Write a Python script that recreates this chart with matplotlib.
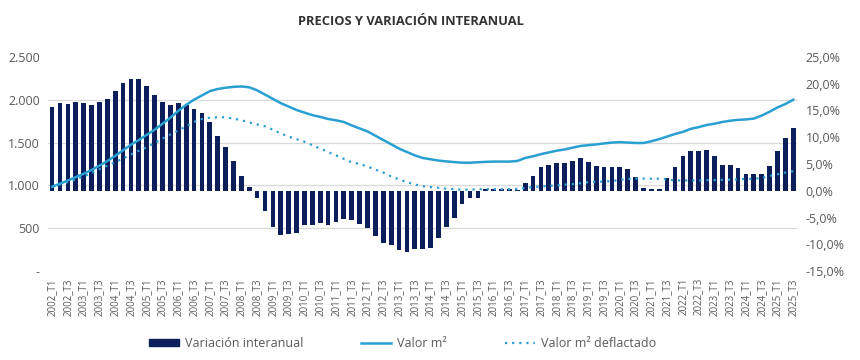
# Precios y variación interanual (trimestral, 2002_T1 - 2025_T3)
import matplotlib.pyplot as plt
import matplotlib.patches as mpatches
from matplotlib.lines import Line2D

plt.rcParams["font.family"] = ["Open Sans", "DejaVu Sans"]

trimestres = [f"{a}_T{t}" for a in range(2002, 2026) for t in range(1, 5)][:95]

# variación interanual (%), eje derecho
variacion = [
    15.6, 16.3, 16.2, 16.5, 16.3, 16.0, 16.5, 17.2, 18.7, 20.1, 20.8, 20.8,
    19.6, 17.8, 16.5, 16.0, 16.4, 16.0, 15.3, 14.6, 12.8, 10.3, 8.2, 5.6,
    2.7, 0.75, -1.4, -3.8, -6.7, -8.2, -8.1, -7.8, -6.4, -6.4, -6.1, -6.4,
    -5.8, -5.2, -5.5, -6.2, -7.0, -8.5, -9.8, -10.2, -11.1, -11.4, -10.8, -10.8,
    -10.6, -8.8, -6.7, -5.0, -2.4, -1.4, -1.4, 0.3, 0.4, 0.4, 0.25, 0.1,
    1.5, 2.8, 4.4, 4.9, 5.2, 5.2, 5.5, 6.2, 5.3, 4.6, 4.5, 4.4,
    4.4, 4.0, 2.6, 0.6, 0.25, 0.4, 2.3, 4.5, 6.5, 7.5, 7.5, 7.7,
    6.4, 4.9, 4.9, 4.2, 3.2, 3.1, 3.2, 4.6, 7.5, 9.8, 11.7,
]

# valor m2 (eje izquierdo)
valor_m2 = [
    985, 1020, 1058, 1097, 1136, 1180, 1230, 1285, 1345, 1410, 1475, 1530,
    1590, 1650, 1720, 1790, 1870, 1940, 2000, 2050, 2100, 2125, 2140, 2150,
    2155, 2145, 2110, 2060, 2010, 1960, 1920, 1880, 1850, 1820, 1800, 1775,
    1760, 1740, 1700, 1665, 1630, 1580, 1530, 1480, 1430, 1390, 1350, 1320,
    1305, 1290, 1280, 1272, 1265, 1265, 1270, 1275, 1278, 1278, 1278, 1285,
    1320, 1340, 1365, 1385, 1405, 1420, 1440, 1460, 1470, 1478, 1490, 1500,
    1505, 1500, 1495, 1495, 1515, 1540, 1570, 1600, 1625, 1660, 1680, 1705,
    1720, 1740, 1755, 1765, 1770, 1780, 1815, 1860, 1910, 1950, 2000,
]

# valor m2 deflactado (eje izquierdo)
valor_defl = [
    985, 1010, 1040, 1070, 1105, 1145, 1190, 1230, 1270, 1315, 1360, 1405,
    1446, 1495, 1545, 1595, 1640, 1690, 1740, 1775, 1790, 1795, 1795, 1780,
    1760, 1735, 1712, 1690, 1650, 1605, 1570, 1540, 1510, 1470, 1430, 1390,
    1350, 1310, 1270, 1250, 1220, 1185, 1150, 1105, 1070, 1038, 1010, 990,
    980, 972, 962, 955, 950, 950, 955, 957, 957, 955, 955, 960,
    970, 980, 988, 995, 1000, 1010, 1015, 1025, 1038, 1042, 1045, 1050,
    1065, 1075, 1080, 1080, 1078, 1078, 1070, 1058, 1058, 1058, 1058, 1060,
    1062, 1065, 1066, 1070, 1075, 1078, 1085, 1110, 1130, 1150, 1165,
]

ticks_izq = [0, 500, 1000, 1500, 2000, 2500]
labels_izq = ["-", "500", "1.000", "1.500", "2.000", "2.500"]
ticks_der = [-15, -10, -5, 0, 5, 10, 15, 20, 25]

NAVY = "#0c1f5a"
BLUE = "#2a9fd2"
GREY = "#595959"

fig = plt.figure(figsize=(8.6, 3.6), dpi=100)
ax_b = fig.add_axes([0.056, 0.247, 0.871, 0.595])
ax_l = ax_b.twinx()

x = list(range(len(trimestres)))

# barras (eje derecho)
ax_b.bar(x, variacion, width=0.6, color=NAVY, zorder=2)
ax_b.set_ylim(-15, 25)
ax_b.yaxis.tick_right()
ax_b.set_yticks(ticks_der)
ax_b.set_yticklabels([f"{v:.1f}%".replace(".", ",") for v in ticks_der])
# rejilla alineada con los ticks del eje izquierdo, detrás de las barras
grid_pos = [-15 + v / 2500 * 40 for v in ticks_izq]
ax_b.set_yticks(grid_pos, minor=True)
ax_b.grid(True, which="minor", axis="y", color="#d9d9d9", lw=0.9, zorder=0)
ax_b.tick_params(axis="y", which="minor", length=0)

# líneas (eje izquierdo)
ax_l.plot(x, valor_m2, color=BLUE, lw=1.8, zorder=3)
ax_l.plot(x, valor_defl, color=BLUE, lw=1.6, ls=(0, (1, 2.2)), zorder=3)
ax_l.set_ylim(0, 2500)
ax_l.yaxis.tick_left()
ax_l.set_yticks(ticks_izq)
ax_l.set_yticklabels(labels_izq)

for a in (ax_b, ax_l):
    for s in a.spines.values():
        s.set_visible(False)
    a.tick_params(axis="y", which="major", length=0, labelsize=9, labelcolor=GREY, pad=6)

ax_b.set_xlim(-0.5, len(trimestres) - 0.5)
ax_b.set_xticks(x[::2])
ax_b.set_xticklabels(trimestres[::2], rotation=90, fontsize=7, color=GREY)
ax_b.tick_params(axis="x", length=0, pad=5)

fig.text(0.478, 0.94, "PRECIOS Y VARIACIÓN INTERANUAL", ha="center", va="center",
         fontsize=9.3, fontweight="bold", color="#333333")

handles = [
    mpatches.Patch(color=NAVY, label="Variación interanual"),
    Line2D([], [], color=BLUE, lw=1.8, label="Valor m²"),
    Line2D([], [], color=BLUE, lw=1.6, ls=(0, (1, 2.2)), label="Valor m² deflactado"),
]
leg = fig.legend(handles=handles, loc="center", bbox_to_anchor=(0.468, 0.047), ncol=3,
                 frameon=False, fontsize=9, handlelength=2.4, handleheight=0.5,
                 columnspacing=4.6, handletextpad=0.5)
for t in leg.get_texts():
    t.set_color(GREY)

fig.savefig("out.png", dpi=100)
